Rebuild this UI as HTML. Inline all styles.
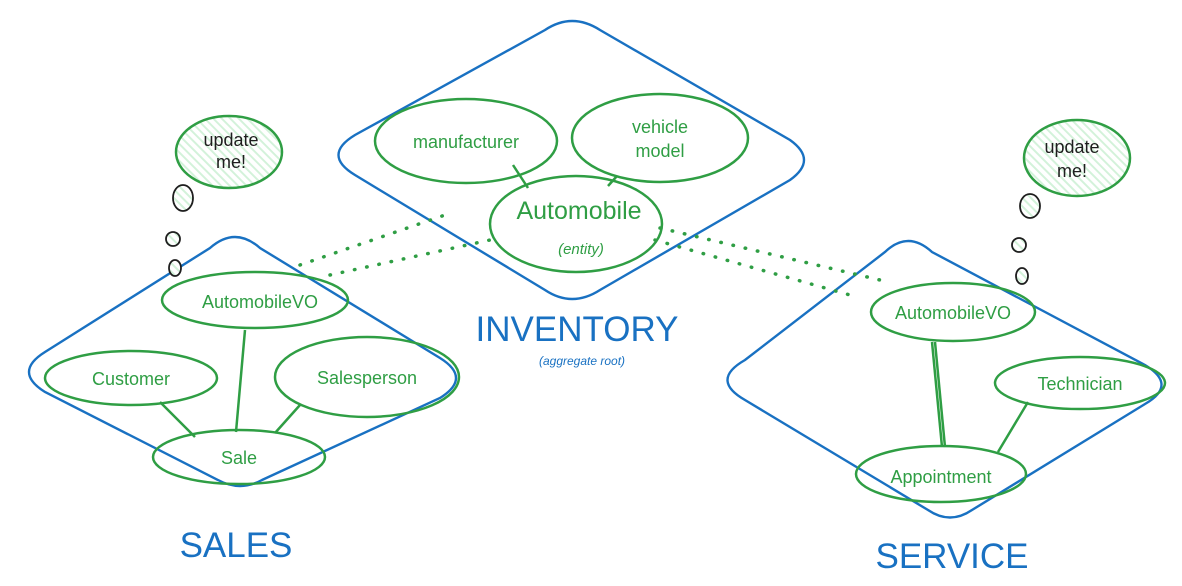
<!DOCTYPE html>
<html><head><style>
html,body{margin:0;padding:0;background:#fff;}
svg{display:block;font-family:"Liberation Sans",sans-serif;}
</style></head><body>
<svg width="1182" height="586" viewBox="0 0 1182 586">
<defs>
<pattern id="h" width="6" height="6" patternUnits="userSpaceOnUse" patternTransform="rotate(-45)">
<rect width="6" height="6" fill="#fff"/><rect width="2" height="6" fill="#d3f2da"/>
</pattern>
</defs>
<g fill="none" stroke="#1971c2" stroke-width="2.4">
<path d="M545,30 Q572,12 600,30 L790,140 Q818,160 790,180 L600,290 Q572,308 545,290 L355,175 Q322,155 355,135 Z"/>
<path d="M210,248 Q235,226 260,248 L440,358 Q472,378 440,398 L262,480 Q240,492 218,480 L45,392 Q13,372 45,352 Z"/>
<path d="M885,252 Q908,230 932,252 L1145,365 Q1178,385 1145,404 L972,510 Q950,525 928,510 L745,400 Q710,380 745,360 Z"/>
</g>
<g fill="none" stroke="#2f9e44" stroke-width="2.5">
<ellipse cx="466" cy="141" rx="91" ry="42"/>
<ellipse cx="660" cy="138" rx="88" ry="44"/>
<ellipse cx="576" cy="224" rx="86" ry="48"/>
<ellipse cx="255" cy="300" rx="93" ry="28"/>
<ellipse cx="131" cy="378" rx="86" ry="27"/>
<ellipse cx="367" cy="377" rx="92" ry="40"/>
<ellipse cx="239" cy="457" rx="86" ry="27"/>
<ellipse cx="953" cy="312" rx="82" ry="29"/>
<ellipse cx="1080" cy="383" rx="85" ry="26"/>
<ellipse cx="941" cy="474" rx="85" ry="28"/>
<path d="M513,165 L528,188 M617,176 L608,186 M245,330 L236,432 M160,402 L195,437 M300,405 L275,433 M932,342 L942,447 M935,342 L945,447 M1028,402 L998,452"/>
<ellipse cx="229" cy="152" rx="53" ry="36" fill="url(#h)"/>
<ellipse cx="1077" cy="158" rx="53" ry="38" fill="url(#h)"/>
</g>
<g fill="url(#h)" stroke="#1e1e1e" stroke-width="1.8">
<ellipse cx="183" cy="198" rx="10" ry="13"/>
<ellipse cx="173" cy="239" rx="7" ry="7"/>
<ellipse cx="175" cy="268" rx="6" ry="8"/>
<ellipse cx="1030" cy="206" rx="10" ry="12"/>
<ellipse cx="1019" cy="245" rx="7" ry="7"/>
<ellipse cx="1022" cy="276" rx="6" ry="8"/>
</g>
<g fill="none" stroke="#2f9e44" stroke-width="3.5" stroke-linecap="round" stroke-dasharray="0.5 12">
<path d="M300,265 L445,215"/>
<path d="M330,275 L490,240"/>
<path d="M660,228 L880,280"/>
<path d="M655,240 L850,295"/>
</g>
<g fill="#2f9e44" text-anchor="middle" font-size="18">
<text x="466" y="148">manufacturer</text>
<text x="660" y="133">vehicle</text>
<text x="660" y="157">model</text>
<text x="579" y="219" font-size="25">Automobile</text>
<text x="581" y="254" font-size="15" font-style="italic">(entity)</text>
<text x="260" y="308">AutomobileVO</text>
<text x="131" y="385">Customer</text>
<text x="367" y="384">Salesperson</text>
<text x="239" y="464">Sale</text>
<text x="953" y="319">AutomobileVO</text>
<text x="1080" y="390">Technician</text>
<text x="941" y="483">Appointment</text>
</g>
<g fill="#1e1e1e" text-anchor="middle" font-size="18">
<text x="231" y="146">update</text>
<text x="231" y="168">me!</text>
<text x="1072" y="153">update</text>
<text x="1072" y="177">me!</text>
</g>
<g fill="#1971c2" text-anchor="middle">
<text x="577" y="341" font-size="35">INVENTORY</text>
<text x="582" y="365" font-size="12" font-style="italic">(aggregate root)</text>
<text x="236" y="557" font-size="35">SALES</text>
<text x="952" y="568" font-size="35">SERVICE</text>
</g>
</svg>
</body></html>
